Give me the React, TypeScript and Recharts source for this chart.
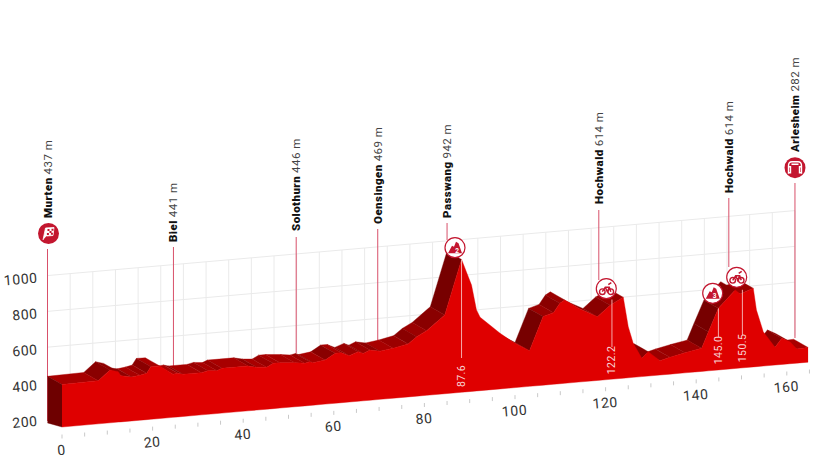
import React from 'react';
import { ComposedChart, Area, XAxis, YAxis, ReferenceLine, ReferenceDot } from 'recharts';

// ---------- data ----------
const profileKm = [0, 8, 10.6, 12.4, 13, 15.4, 17.2, 18.7, 19.6, 21.6, 24.5, 25.6, 26.7, 30.8, 32.2, 34.2, 35.3, 41.1, 43, 45.2, 46.6, 48.1, 51.4, 53.6, 54.7, 55.4, 58.1, 60.3, 61.7, 63.4, 65.4, 66.5, 68, 70.2, 73.1, 76.4, 78.3, 80.5, 84.5, 88.2, 90.4, 91.5, 92.3, 96.7, 99.6, 103.2, 106.2, 108.5, 109.9, 111, 114, 118.2, 121, 123.9, 125, 126.1, 128, 129.4, 132, 134.2, 137.5, 141.2, 142.7, 144.9, 148.6, 149.7, 152.6, 153.3, 154.8, 157.4, 158.9, 160.7, 162.2, 164.7];
const profileElevation = [437, 441, 495, 482, 458, 445, 451, 459, 494, 493, 441, 444, 436, 436, 444, 439, 450, 450, 439, 434, 453, 453, 446, 438, 444, 437, 446, 479, 479, 459, 477, 465, 480, 469, 479, 496, 532, 561, 640, 942, 794, 652, 610, 511, 454, 399, 583, 600, 649, 665, 612, 556, 614, 652, 485, 390, 302, 336, 280, 294, 312, 329, 418, 544, 639, 614, 639, 516, 392, 299, 346, 323, 279, 282];

const stopNames = ['Murten', 'Biel', 'Solothurn', 'Oensingen', 'Passwang', 'Hochwald', 'Hochwald', 'Arlesheim'];
const stopElevations = [437, 441, 446, 469, 942, 614, 614, 282];
const stopKm = [0, 27.8, 54.9, 72.9, 88.2, 121.7, 150.4, 165];

const summitKmLabels = ['87.6', '122.2', '145.0', '150.5'];
const summitKm = [88.2, 121.4, 144.9, 150.2];
const summitElevation = [942, 645, 544, 636];

const kmTicks = [0, 5, 10, 15, 20, 25, 30, 35, 40, 45, 50, 55, 60, 65, 70, 75, 80, 85, 90, 95, 100, 105, 110, 115, 120, 125, 130, 135, 140, 145, 150, 155, 160, 165];
const elevationTicks = [200, 400, 600, 800, 1000];
const gridElevations = [600, 800, 1000];

// ---------- projection ----------
const W = 825, H = 459;
const PX_KM = 4.53, PX_M = 0.179, X0 = 62, Y0 = 427;
const TILT = 2.2, BACK_KM = 3.2, BACK_LIFT = 46;
const xv = (px: number) => (px - X0) / PX_KM;
const yv = (px: number) => 200 + (Y0 - px) / PX_M;
const xDomain: [number, number] = [xv(1), xv(W)];
const yDomain: [number, number] = [yv(H - 1), yv(0)];
const app = (km: number, e: number) => e + km * TILT;
const backApp = (km: number, e: number) => e + km * TILT + BACK_LIFT;

const frontData = profileKm.map((km, i) => ({ km, band: [app(km, 200), app(km, profileElevation[i])] }));
const sideData = [
  { km: -BACK_KM, band: [backApp(0, 177), backApp(0, profileElevation[0])] },
  { km: 0, band: [app(0, 200), app(0, profileElevation[0])] },
];

type P = [number, number];
function ribbon(a: P, b: P, c: P, d: P) {
  const edges: [P, P][] = [[a, b], [b, c], [c, d], [d, a]];
  const xs = Array.from(new Set([a[0], b[0], c[0], d[0]])).sort((p, q) => p - q);
  return xs.map((x) => {
    const ys: number[] = [];
    edges.forEach(([p, q]) => {
      const lo = Math.min(p[0], q[0]), hi = Math.max(p[0], q[0]);
      if (x >= lo - 1e-9 && x <= hi + 1e-9 && hi > lo) ys.push(p[1] + ((x - p[0]) / (q[0] - p[0])) * (q[1] - p[1]));
    });
    return { km: x, band: [Math.min(...ys), Math.max(...ys)] };
  });
}
function shade(grade: number) {
  if (grade > 45) return '#770000';
  if (grade > 15) return '#8a0000';
  if (grade > 4) return '#9b0000';
  if (grade > -4) return '#a80000';
  return '#8f0000';
}
const segments = profileKm.slice(0, -1).map((km, i) => {
  const km2 = profileKm[i + 1], e1 = profileElevation[i], e2 = profileElevation[i + 1];
  const drop = ((app(km, e1) - app(km2, e2)) * PX_M) / ((km2 - km) * PX_KM);
  if (drop > 0.55) return null;
  return {
    color: shade((e2 - e1) / (km2 - km)),
    data: ribbon(
      [km, app(km, e1)], [km2, app(km2, e2)],
      [km2 - BACK_KM, backApp(km2, e2)], [km - BACK_KM, backApp(km, e1)],
    ),
  };
}).filter(Boolean).reverse() as { color: string; data: { km: number; band: number[] }[] }[];

// ---------- annotation layout ----------
const FONT = 'Roboto, sans-serif';
const CRIMSON = '#c3162f';
const stemTopY = [249, 247, 237, 229, 223, 210, 198, 183];
const stemBottomY = [421, 366, 353, 342, 240, 280, 267, 338];
const labelBottomY = [218, 242, 231, 224, 218, 204, 193, 152];
const iconX = [48.5, 455, 606.3, 712.7, 736.7, 795];
const iconY = [233.5, 247.7, 288.7, 293.3, 277.3, 167.7];
const iconKind = ['start', 'cat2', 'bike', 'cat3', 'bike', 'finish'];
const summitLineBottomY = [358, 347, 337, 335];
const summitTextY = [376, 360, 350, 348];

const Icon = ({ cx, cy, kind }: { cx?: number; cy?: number; kind: string }) => {
  const solid = kind === 'start' || kind === 'finish';
  return (
    <g transform={`translate(${cx},${cy})`}>
      <circle r={solid ? 10.5 : 10} fill={solid ? CRIMSON : '#fff'} stroke={CRIMSON} strokeWidth={solid ? 0 : 1.2} />
      {kind === 'start' && (
        <g>
          <path d="M-5.5,6.5 L-3,-5.5 L5.5,-6 L4.5,2 L-2,2.5" fill="#fff" stroke="#fff" strokeWidth={0.8} />
          <path d="M-1,-4.5h2v2h-2zM3,-4.8h2v2h-2zM1,-2.6h2v2h-2zM-1.6,-0.6h2v2h-2zM2.4,-0.8h2v2h-2z" fill={CRIMSON} />
        </g>
      )}
      {kind === 'finish' && (
        <path d="M-6.5,6 V-2 Q-6.5,-6 -3,-6 H3 Q6.5,-6 6.5,-2 V6 M-6.5,-1 H-4.5 V5 H-6.5 M6.5,-1 H4.5 V5 H6.5 M-3.5,-3.5 H3.5" fill="none" stroke="#fff" strokeWidth={1.4} />
      )}
      {(kind === 'cat2' || kind === 'cat3') && (
        <g>
          <path d="M-7,5.5 L-3,-2 L-1,-1 L1,-6 L3.5,-4.5 L7,5.5 Z" fill={CRIMSON} />
          <text x={2} y={5} fontSize={6.5} fontWeight={700} fontFamily={FONT} fill="#fff" textAnchor="middle">{kind === 'cat2' ? '2' : '3'}</text>
        </g>
      )}
      {kind === 'bike' && (
        <g fill="none" stroke={CRIMSON} strokeWidth={1.4}>
          <circle cx={-4} cy={3} r={2.8} />
          <circle cx={4.5} cy={3} r={2.8} />
          <path d="M-4,3 L-1,-1.5 L3,-1.5 L4.5,3 M-1,-1.5 L1,3 L3,-1.5 M2,-4 L5,-6" strokeWidth={1.5} />
        </g>
      )}
    </g>
  );
};

const StopLabel = ({ cx, cy, name, elev }: { cx?: number; cy?: number; name: string; elev: number }) => (
  <text transform={`translate(${(cx as number) + 4},${cy}) rotate(-90)`} fontFamily={FONT} fontSize={11.5} letterSpacing={0.45}>
    <tspan fontWeight={900} fill="#111">{name}</tspan>
    <tspan fill="#444" dx={3}>{elev} m</tspan>
  </text>
);

const SummitLabel = ({ cx, cy, text }: { cx?: number; cy?: number; text: string }) => (
  <text transform={`translate(${(cx as number) + 3.5},${cy}) rotate(-90)`} textAnchor="middle" fontFamily={FONT} fontSize={10.5} letterSpacing={0.4} fill="#f8d4d4">{text}</text>
);

const KmTick = ({ x, payload }: any) => {
  const km = payload.value as number;
  const base = Y0 - km * TILT * PX_M;
  return (
    <g>
      <line x1={x} x2={x} y1={base + 7.5} y2={base + 11.5} stroke="#c9c9c9" strokeWidth={1} />
      {km % 20 === 0 && (
        <text transform={`translate(${x},${base + 28}) rotate(-5)`} textAnchor="middle" fontFamily={FONT} fontSize={14} letterSpacing={0.6} fill="#333">{km}</text>
      )}
    </g>
  );
};

const ElevTick = ({ y, payload }: any) => (
  <text transform={`translate(38,${y + 7}) rotate(-5)`} textAnchor="end" fontFamily={FONT} fontSize={14} letterSpacing={0.6} fill="#333">
    {Math.round(payload.value - BACK_LIFT)}
  </text>
);

export default function App() {
  return (
    <div style={{ position: 'absolute', left: 0, top: 0, width: W, height: H, background: '#fff' }}>
      <ComposedChart width={W} height={H} data={frontData} margin={{ top: 0, right: 0, bottom: 0, left: 0 }}>
        <XAxis dataKey="km" type="number" domain={xDomain} allowDataOverflow height={1} orientation="bottom"
          ticks={kmTicks} interval={0} axisLine={false} tickLine={false} tick={(p: any) => <KmTick {...p} />} />
        <YAxis type="number" domain={yDomain} allowDataOverflow width={1}
          ticks={elevationTicks.map((e) => e + BACK_LIFT)} interval={0} axisLine={false} tickLine={false} tick={(p: any) => <ElevTick {...p} />} />

        {gridElevations.map((e) => (
          <ReferenceLine key={`h${e}`} zIndex={-50} ifOverflow="visible" stroke="#eaeaea" strokeWidth={1}
            segment={[{ x: -BACK_KM, y: backApp(0, e) }, { x: 165 - BACK_KM, y: backApp(165, e) }]} />
        ))}
        {kmTicks.slice(1).map((km) => (
          <ReferenceLine key={`v${km}`} zIndex={-50} ifOverflow="visible" stroke="#eaeaea" strokeWidth={1}
            segment={[{ x: km - BACK_KM, y: backApp(km, 1000) }, { x: km - BACK_KM, y: backApp(km, 300) }]} />
        ))}
        {stopKm.map((km, i) => (
          <ReferenceLine key={`s${i}`} zIndex={-40} ifOverflow="visible" stroke="#d8506a" strokeWidth={1}
            segment={[{ x: km - BACK_KM, y: yv(stemTopY[i]) }, { x: km - BACK_KM, y: yv(stemBottomY[i]) }]} />
        ))}

        {segments.map((s, i) => (
          <Area key={`r${i}`} data={s.data} dataKey="band" type="linear" fill={s.color} fillOpacity={1} stroke={s.color} strokeWidth={0.4} dot={false} activeDot={false} isAnimationActive={false} />
        ))}
        <Area data={sideData} dataKey="band" type="linear" fill="#6e0000" fillOpacity={1} stroke="#6e0000" strokeWidth={0.4} dot={false} activeDot={false} isAnimationActive={false} />
        <Area dataKey="band" type="linear" fill="#df0000" fillOpacity={1} stroke="#df0000" strokeWidth={0.4} dot={false} activeDot={false} isAnimationActive={false} />

        {summitKm.map((km, i) => (
          <ReferenceLine key={`w${i}`} ifOverflow="visible" stroke="#f4a9a9" strokeWidth={1}
            segment={[{ x: km, y: app(km, summitElevation[i]) }, { x: km, y: yv(summitLineBottomY[i]) }]} />
        ))}
        {summitKm.map((km, i) => (
          <ReferenceDot key={`wt${i}`} ifOverflow="visible" x={km} y={yv(summitTextY[i])} r={0}
            shape={(p: any) => <SummitLabel cx={p.cx} cy={p.cy} text={summitKmLabels[i]} />} />
        ))}
        {stopKm.map((km, i) => (
          <ReferenceDot key={`l${i}`} ifOverflow="visible" x={km - BACK_KM} y={yv(labelBottomY[i])} r={0}
            shape={(p: any) => <StopLabel cx={p.cx} cy={p.cy} name={stopNames[i]} elev={stopElevations[i]} />} />
        ))}
        {iconKind.map((kind, i) => (
          <ReferenceDot key={`i${i}`} ifOverflow="visible" x={xv(iconX[i])} y={yv(iconY[i])} r={0}
            shape={(p: any) => <Icon cx={p.cx} cy={p.cy} kind={kind} />} />
        ))}
      </ComposedChart>
    </div>
  );
}
